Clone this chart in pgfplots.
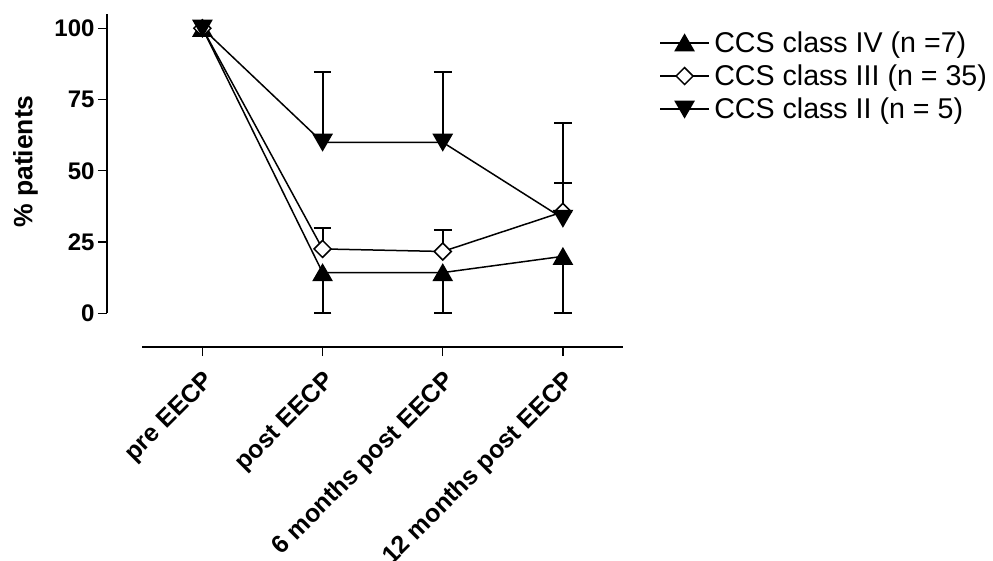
\documentclass[border=0pt]{standalone}
\usepackage{fontspec}
\setmainfont{Liberation Sans}
\usepackage{pgfplots}
\pgfplotsset{compat=1.18}
\usepackage{pgfplotstable}

\pgfplotstableread{
x y em
0 100 0
1 14.3 14.3
2 14.3 14.3
3 20 20
}\classIV
\pgfplotstableread{
x y ep
0 100 0
1 22.6 7.3
2 21.7 7.4
3 35.6 10.2
}\classIII
\pgfplotstableread{
x y ep
0 100 0
1 60 24.5
2 60 24.5
3 33.3 33.3
}\classII

\begin{document}
\begin{tikzpicture}
\useasboundingbox (-107bp,-214bp) rectangle (886bp,347bp);
\begin{axis}[
  at={(0,0)}, anchor=south west,
  scale only axis, width=516bp, height=333bp,
  xmin=-0.794, xmax=3.5, ymin=-11.8, ymax=105,
  clip=false,
  axis x line=bottom, axis y line=left,
  axis line style={draw=none},
  xtick={0,1,2,3},
  xticklabels={pre EECP, post EECP, 6 months post EECP, 12 months post EECP},
  ytick={0,25,50,75,100},
  tick align=outside,
  major tick length=9bp,
  every tick/.style={black, line width=1.3bp},
  xticklabel style={yshift=-13bp, rotate=45, anchor=north east, font=\bfseries\fontsize{25bp}{29bp}\selectfont, inner sep=0pt},
  yticklabel style={font=\bfseries\fontsize{24bp}{28bp}\selectfont},
  /pgf/number format/assume math mode=true,
  ylabel={\% patients},
  ylabel style={at={(axis description cs:-0.182,0.557)}, anchor=north, font=\bfseries\fontsize{26.5bp}{30bp}\selectfont, inner sep=0pt},
  legend style={at={(axis description cs:1.070,0.952)}, anchor=north west, draw=none, fill=none,
    font=\fontsize{28.6bp}{32bp}\selectfont, row sep=8bp, column sep=3bp, inner sep=0pt, nodes={inner sep=1.5bp}},
  legend cell align=left,
  legend image code/.code={\draw[mark repeat=2,mark phase=2] plot coordinates {(0bp,0bp) (24.5bp,0bp) (49bp,0bp)};},
]
\draw[line width=1.5bp] (axis cs:-0.794,0) -- (axis cs:-0.794,105);
\draw[line width=1.5bp] (axis cs:-0.5,-11.8) -- (axis cs:3.5,-11.8);

\addplot[black, line width=1.5bp, mark=triangle*, mark size=10.5bp,
  mark options={yshift=-2.6bp, fill=black, solid},
  error bars/.cd, y dir=minus, y explicit,
  error bar style={line width=2bp},
  error mark=|,
  error mark options={mark size=8.8bp, line width=2bp}]
  table[x=x, y=y, y error minus=em] {\classIV};
\addlegendentry{CCS class IV (n =7)}

\addplot[black, line width=1.5bp, mark=square*, mark size=6bp,
  mark options={rotate=45, fill=white, solid},
  error bars/.cd, y dir=plus, y explicit,
  error bar style={line width=2bp},
  error mark=|,
  error mark options={mark size=8.8bp, line width=2bp}]
  table[x=x, y=y, y error plus=ep] {\classIII};
\addlegendentry{CCS class III (n = 35)}

\addplot[black, line width=1.5bp, mark=triangle*, mark size=10.5bp,
  mark options={yshift=2.6bp, rotate=180, fill=black, solid},
  error bars/.cd, y dir=plus, y explicit,
  error bar style={line width=2bp},
  error mark=|,
  error mark options={mark size=8.8bp, line width=2bp}]
  table[x=x, y=y, y error plus=ep] {\classII};
\addlegendentry{CCS class II (n = 5)}
\end{axis}
\end{tikzpicture}
\end{document}
